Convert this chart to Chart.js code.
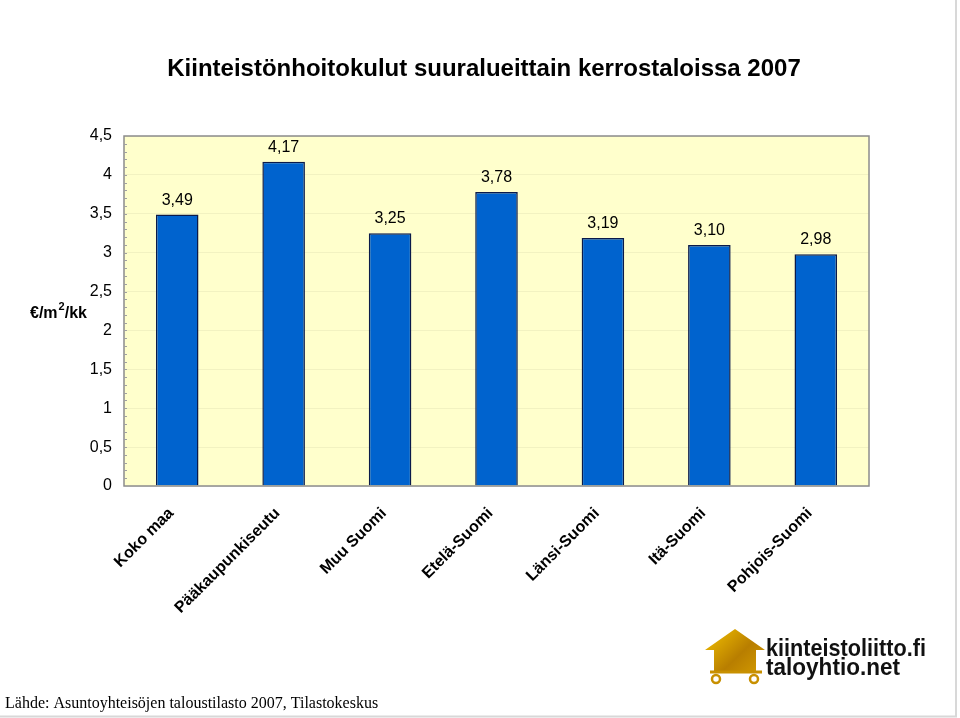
<!DOCTYPE html>
<html>
<head>
<meta charset="utf-8">
<script src="https://cdn.jsdelivr.net/npm/chart.js@4"></script>
<style>
  html, body { margin: 0; padding: 0; background: #fff; }
  #wrap { width: 960px; height: 718px; position: relative; }
</style>
</head>
<body>
<div id="wrap"><canvas id="costChart" width="960" height="718"></canvas></div>
<script>
const regions = ['Koko maa', 'Pääkaupunkiseutu', 'Muu Suomi', 'Etelä-Suomi', 'Länsi-Suomi', 'Itä-Suomi', 'Pohjois-Suomi'];
const costs = [3.49, 4.17, 3.25, 3.78, 3.19, 3.10, 2.98];
const yTicks = [0, 0.5, 1, 1.5, 2, 2.5, 3, 3.5, 4, 4.5];

const fmt = (v, dec) => v.toFixed(dec).replace('.', ',');

// background, labels, footer and logo
const decorations = {
  id: 'decorations',
  beforeDraw(chart) {
    const { ctx, chartArea: a } = chart;
    ctx.save();
    ctx.fillStyle = '#ffffff';
    ctx.fillRect(0, 0, chart.width, chart.height);
    ctx.fillStyle = '#FFFFCC';
    ctx.fillRect(a.left, a.top, a.right - a.left, a.bottom - a.top);
    ctx.restore();
  },
  afterDraw(chart) {
    const { ctx, chartArea: a } = chart;
    const y = chart.scales.y;
    ctx.save();

    // plot border
    ctx.strokeStyle = '#8c8c8c';
    ctx.lineWidth = 1.5;
    ctx.strokeRect(a.left, a.top, a.right - a.left, a.bottom - a.top);

    // minor ticks
    ctx.strokeStyle = '#a0a0a0';
    ctx.lineWidth = 1;
    for (let i = 1; i < 45; i++) {
      const py = Math.round(y.getPixelForValue(i / 10)) + 0.5;
      ctx.beginPath();
      ctx.moveTo(a.left, py);
      ctx.lineTo(a.left + 3, py);
      ctx.stroke();
    }

    // title
    ctx.fillStyle = '#000';
    ctx.font = 'bold 24px "Liberation Sans", Arial, sans-serif';
    ctx.textAlign = 'center';
    ctx.textBaseline = 'alphabetic';
    ctx.fillText('Kiinteistönhoitokulut suuralueittain kerrostaloissa 2007', 484, 76, 642);

    // y axis title with superscript
    ctx.font = 'bold 16px "Liberation Sans", Arial, sans-serif';
    ctx.textAlign = 'left';
    let x = 30;
    ctx.fillText('€/m', x, 318);
    x += ctx.measureText('€/m').width;
    ctx.font = 'bold 11px "Liberation Sans", Arial, sans-serif';
    ctx.fillText('2', x + 1, 310);
    x += ctx.measureText('2').width + 1;
    ctx.font = 'bold 16px "Liberation Sans", Arial, sans-serif';
    ctx.fillText('/kk', x, 318);

    // value labels
    ctx.font = '16px "Liberation Sans", Arial, sans-serif';
    ctx.textAlign = 'center';
    const meta = chart.getDatasetMeta(0);
    meta.data.forEach((bar, i) => {
      ctx.fillText(fmt(costs[i], 2), bar.x, bar.y - 10);
    });

    // footer
    ctx.font = '16px "Liberation Serif", "Times New Roman", serif';
    ctx.textAlign = 'left';
    ctx.fillText('Lähde: Asuntoyhteisöjen taloustilasto 2007, Tilastokeskus', 5, 708);

    // frame lines
    ctx.strokeStyle = '#d8d8d8';
    ctx.lineWidth = 2;
    ctx.beginPath();
    ctx.moveTo(0, 716.5);
    ctx.lineTo(956, 716.5);
    ctx.lineTo(956, 0);
    ctx.stroke();

    // logo house
    const g = ctx.createLinearGradient(705, 628, 765, 690);
    g.addColorStop(0, '#f5c400');
    g.addColorStop(0.5, '#b87e00');
    g.addColorStop(1, '#e0a800');
    ctx.fillStyle = g;
    ctx.beginPath();
    ctx.moveTo(735, 629);
    ctx.lineTo(765, 650);
    ctx.lineTo(756, 650);
    ctx.lineTo(756, 672);
    ctx.lineTo(714, 672);
    ctx.lineTo(714, 650);
    ctx.lineTo(705, 650);
    ctx.closePath();
    ctx.fill();
    ctx.strokeStyle = '#c89000';
    ctx.lineWidth = 3;
    ctx.beginPath();
    ctx.moveTo(710, 672);
    ctx.lineTo(762, 672);
    ctx.stroke();
    ctx.lineWidth = 2.5;
    ctx.beginPath();
    ctx.arc(716, 679, 4, 0, Math.PI * 2);
    ctx.stroke();
    ctx.beginPath();
    ctx.arc(754, 679, 4, 0, Math.PI * 2);
    ctx.stroke();

    // logo text
    ctx.fillStyle = '#111';
    ctx.font = 'bold 24px "Liberation Sans", Arial, sans-serif';
    ctx.textAlign = 'left';
    ctx.fillText('kiinteistoliitto.fi', 766, 656, 160);
    ctx.fillText('taloyhtio.net', 766, 675, 134);

    ctx.restore();
  }
};

const ctx = document.getElementById('costChart').getContext('2d');
new Chart(ctx, {
  type: 'bar',
  data: {
    labels: regions,
    datasets: [{
      data: costs,
      backgroundColor: '#0063CE',
      borderColor: '#0a1a4a',
      borderWidth: 1.5,
      barPercentage: 0.4,
      categoryPercentage: 1.0,
    }],
  },
  options: {
    responsive: false,
    animation: false,
    devicePixelRatio: 1,
    layout: { padding: { top: 136, right: 91, left: 0, bottom: 0 } },
    plugins: {
      legend: { display: false },
      title: { display: false },
      tooltip: { enabled: false },
    },
    scales: {
      x: {
        afterFit: (s) => { s.height = 232; },
        grid: { display: false, drawTicks: false },
        border: { display: false },
        ticks: {
          minRotation: 45,
          maxRotation: 45,
          padding: 18,
          labelOffset: -6,
          color: '#000',
          font: { family: '"Liberation Sans", Arial, sans-serif', size: 16, weight: 'bold' },
        },
      },
      y: {
        min: 0,
        max: 4.5,
        afterFit: (s) => { s.width = 124; },
        afterBuildTicks: (s) => { s.ticks = yTicks.map(v => ({ value: v })); },
        grid: { color: 'rgba(0,0,0,0.05)', drawTicks: false },
        border: { display: false },
        ticks: {
          padding: 12,
          color: '#000',
          font: { family: '"Liberation Sans", Arial, sans-serif', size: 16 },
          callback: (v) => (v % 1 === 0 ? String(v) : fmt(v, 1)),
        },
      },
    },
  },
  plugins: [decorations],
});
</script>
</body>
</html>
